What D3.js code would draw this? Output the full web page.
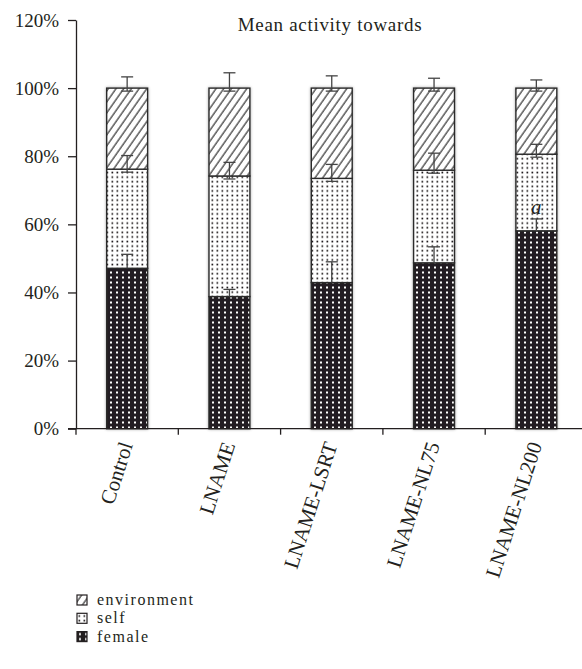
<!DOCTYPE html>
<html><head><meta charset="utf-8">
<script src="https://cdn.jsdelivr.net/npm/d3@7"></script>
<style>body{margin:0;background:#fff} svg text{font-family:"Liberation Serif","Times New Roman",serif;}</style>
</head><body>
<script>
const categories = ["Control", "LNAME", "LNAME-LSRT", "LNAME-NL75", "LNAME-NL200"];
const seriesNames = ["female", "self", "environment"];
const femaleValues = [47.1, 38.8, 42.9, 48.7, 58.1];
const selfValues = [29.1, 35.4, 30.6, 27.2, 22.5];
const environmentValues = [23.8, 25.8, 26.5, 24.1, 19.4];
const femaleErrors = [4.1, 2.1, 6.1, 4.7, 3.5];
const selfErrors = [4.0, 4.0, 4.1, 5.0, 2.9];
const environmentErrors = [3.3, 4.5, 3.6, 2.9, 2.4];
const yTicks = [0, 20, 40, 60, 80, 100, 120];
const titleText = "Mean activity towards";
const annotations = [{category: "LNAME-NL200", series: "female", text: "a"}];

const W = 582, H = 669;
const FONT = "Liberation Serif, Times New Roman, serif";
const INK = "#231f20";

const rows = categories.map((c, i) => ({
  category: c,
  female: femaleValues[i],
  self: selfValues[i],
  environment: environmentValues[i]
}));
const errors = {female: femaleErrors, self: selfErrors, environment: environmentErrors};

const svg = d3.select("body").append("svg").attr("width", W).attr("height", H);

const defs = svg.append("defs");
const ph = defs.append("pattern").attr("id", "hatch").attr("patternUnits", "userSpaceOnUse")
  .attr("width", 6.3).attr("height", 10).attr("patternTransform", "rotate(35)");
ph.append("rect").attr("width", 6.3).attr("height", 10).attr("fill", "#fff");
ph.append("line").attr("x1", 1).attr("x2", 1).attr("y1", 0).attr("y2", 10)
  .attr("stroke", "#333").attr("stroke-width", 1.2);
const ps = defs.append("pattern").attr("id", "selfdots").attr("patternUnits", "userSpaceOnUse")
  .attr("width", 5).attr("height", 4.6);
ps.append("rect").attr("width", 5).attr("height", 4.6).attr("fill", "#fff");
ps.append("rect").attr("x", 1.5).attr("y", 1.5).attr("width", 1.7).attr("height", 1.7).attr("fill", INK);
const pf = defs.append("pattern").attr("id", "femaledots").attr("patternUnits", "userSpaceOnUse")
  .attr("width", 6).attr("height", 5);
pf.append("rect").attr("width", 6).attr("height", 5).attr("fill", INK);
pf.append("rect").attr("x", 2).attr("y", 1.5).attr("width", 2).attr("height", 2).attr("fill", "#fff");

const shadow = defs.append("filter").attr("id", "shadow").attr("x", "-20%").attr("y", "-5%")
  .attr("width", "140%").attr("height", "110%");
shadow.append("feGaussianBlur").attr("in", "SourceAlpha").attr("stdDeviation", 1.6).attr("result", "b");
shadow.append("feComponentTransfer").attr("in", "b").attr("result", "c")
  .append("feFuncA").attr("type", "linear").attr("slope", 0.35);
const fm = shadow.append("feMerge");
fm.append("feMergeNode").attr("in", "c");
fm.append("feMergeNode").attr("in", "SourceGraphic");

const fills = {female: "url(#femaledots)", self: "url(#selfdots)", environment: "url(#hatch)"};

const x = d3.scaleBand().domain(categories).range([76, 587.5]).paddingInner(0.6).paddingOuter(0.3);
const y = d3.scaleLinear().domain([0, 120]).range([428.7, 20]);
const step = x.step(), bw = x.bandwidth();

// Y axis
const yAxis = svg.append("g").attr("transform", "translate(76,0)")
  .call(d3.axisLeft(y).tickValues(yTicks).tickFormat(d => d + "%").tickSize(8).tickSizeOuter(0).tickPadding(9));
yAxis.attr("font-family", FONT);
yAxis.select(".domain").attr("stroke", INK).attr("stroke-width", 1.3);
yAxis.selectAll(".tick line").attr("stroke", INK).attr("stroke-width", 1.3);
yAxis.selectAll(".tick text").attr("font-family", FONT).attr("font-size", 19).attr("fill", INK);

// Bars
const stack = d3.stack().keys(seriesNames)(rows);
const barG = svg.append("g").attr("filter", "url(#shadow)");
stack.forEach(layer => {
  barG.append("g").selectAll("rect").data(layer).join("rect")
    .attr("x", d => x(d.data.category))
    .attr("width", bw)
    .attr("y", d => y(d[1]))
    .attr("height", d => y(d[0]) - y(d[1]))
    .attr("fill", fills[layer.key])
    .attr("stroke", "#2b2b2b")
    .attr("stroke-width", 1.4);
});

// X axis
svg.append("line").attr("x1", 68).attr("x2", W).attr("y1", y(0)).attr("y2", y(0))
  .attr("stroke", INK).attr("stroke-width", 1.3);
svg.append("g").selectAll("line").data(categories).join("line")
  .attr("x1", d => x(d) - (step - bw) / 2).attr("x2", d => x(d) - (step - bw) / 2)
  .attr("y1", y(0)).attr("y2", y(0) + 6)
  .attr("stroke", INK).attr("stroke-width", 1.3);

// Error bars
const capW = 12;
const errG = svg.append("g").attr("stroke", "#444").attr("stroke-width", 1.3);
stack.forEach(layer => {
  const errs = errors[layer.key];
  layer.forEach((d, i) => {
    const cx = x(d.data.category) + bw / 2;
    const top = y(d[1]);
    const hi = y(d[1] + errs[i]);
    const lo = layer.key === "female" ? top : top + 3;
    errG.append("line").attr("x1", cx).attr("x2", cx).attr("y1", lo).attr("y2", hi);
    errG.append("line").attr("x1", cx - capW / 2).attr("x2", cx + capW / 2).attr("y1", hi).attr("y2", hi);
    if (layer.key !== "female")
      errG.append("line").attr("x1", cx - capW / 2).attr("x2", cx + capW / 2).attr("y1", lo).attr("y2", lo);
  });
});

// Annotations
annotations.forEach(a => {
  const i = categories.indexOf(a.category);
  const layer = stack.find(l => l.key === a.series);
  const top = layer[i][1] + errors[a.series][i];
  svg.append("text").attr("x", x(a.category) + bw / 2).attr("y", y(top) - 5)
    .attr("text-anchor", "middle").attr("font-style", "italic").attr("font-size", 21)
    .attr("font-family", FONT).attr("fill", INK).text(a.text);
});

// Category labels
svg.append("g").selectAll("text").data(categories).join("text")
  .attr("transform", d => `translate(${x(d) + bw / 2 + 6},${y(0) + 16}) rotate(-72)`)
  .attr("text-anchor", "end")
  .attr("font-family", FONT)
  .attr("font-size", 21).attr("fill", INK)
  .text(d => d);

// Title
svg.append("text").attr("x", 330).attr("y", 31).attr("text-anchor", "middle")
  .attr("font-family", FONT)
  .attr("font-size", 19).attr("letter-spacing", 0.7).attr("fill", INK).text(titleText);

// Legend
const legendOrder = ["environment", "self", "female"];
const lg = svg.append("g").selectAll("g").data(legendOrder).join("g")
  .attr("transform", (d, i) => `translate(77,${600 + i * 18.3})`);
lg.append("rect").attr("x", 0).attr("y", -5).attr("width", 10).attr("height", 10)
  .attr("fill", d => fills[d]).attr("stroke", INK).attr("stroke-width", 1.2);
lg.append("text").attr("x", 20).attr("y", 0).attr("dy", "0.32em")
  .attr("font-family", FONT)
  .attr("font-size", 16).attr("letter-spacing", 1.5).attr("fill", INK).text(d => d);
</script>
</body></html>
